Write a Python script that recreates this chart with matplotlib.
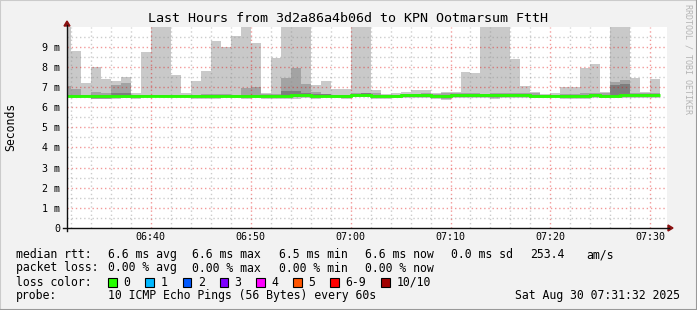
import numpy as np
import matplotlib
matplotlib.use("Agg")
import matplotlib.pyplot as plt
from matplotlib.patches import Polygon, Rectangle
from matplotlib.lines import Line2D

W, H = 697, 310

# ---------------- data (ms) ----------------
# bin end times in minutes after 06:30; first bin starts at the window start
window_start = 1.63
window_end = 61.63
bin_end = list(range(2, 62))  # 06:32 ... 07:31

rtt_max = [10.5, 8.8, 7.2, 8.0, 7.4, 7.3, 7.5, 6.7, 8.73, 10.5,
           10.5, 7.6, 6.7, 7.3, 7.8, 9.28, 9.0, 9.53, 10.5, 9.17,
           6.72, 8.45, 10.5, 10.5, 10.5, 7.1, 7.3, 6.9, 6.9, 10.5,
           10.5, 6.85, 6.65, 6.7, 6.75, 6.85, 6.85, 6.7, 6.75, 6.75,
           7.74, 7.7, 10.5, 10.5, 10.5, 8.4, 7.05, 6.75, 6.65, 6.7,
           7.0, 7.0, 7.94, 8.14, 6.75, 10.5, 10.5, 7.45, 6.75, 7.4]

rtt_p9 = [7.05, 6.9, 6.6, 6.75, 6.7, 7.1, 7.2, 6.6, 6.62, 6.62,
          6.6, 6.6, 6.6, 6.6, 6.65, 6.65, 6.65, 6.62, 6.93, 7.0,
          6.65, 6.65, 7.43, 7.94, 7.15, 6.75, 6.65, 6.62, 6.62, 6.7,
          6.7, 6.7, 6.62, 6.6, 6.62, 6.65, 6.7, 6.65, 6.7, 6.7,
          6.7, 6.7, 6.65, 6.7, 6.7, 6.68, 6.7, 6.7, 6.62, 6.62,
          6.65, 6.65, 6.7, 6.7, 6.7, 7.25, 7.35, 6.7, 6.7, 6.68]

rtt_p8 = [6.62, 6.6, 6.58, 6.62, 6.62, 6.7, 6.7, 6.58, 6.6, 6.6,
          6.58, 6.58, 6.6, 6.6, 6.58, 6.58, 6.6, 6.6, 6.62, 6.62,
          6.6, 6.6, 6.78, 6.82, 6.72, 6.65, 6.65, 6.6, 6.58, 6.66,
          6.68, 6.6, 6.6, 6.62, 6.64, 6.64, 6.64, 6.6, 6.6, 6.64,
          6.64, 6.64, 6.66, 6.66, 6.66, 6.66, 6.64, 6.62, 6.62, 6.62,
          6.6, 6.6, 6.6, 6.66, 6.6, 7.1, 7.15, 6.64, 6.64, 6.64]

rtt_median = [6.55, 6.55, 6.53, 6.53, 6.53, 6.53, 6.53, 6.55, 6.56, 6.56,
              6.55, 6.54, 6.55, 6.55, 6.54, 6.54, 6.55, 6.55, 6.54, 6.55,
              6.55, 6.55, 6.56, 6.59, 6.61, 6.57, 6.57, 6.55, 6.53, 6.59,
              6.62, 6.55, 6.54, 6.55, 6.59, 6.59, 6.58, 6.55, 6.55, 6.58,
              6.58, 6.58, 6.59, 6.59, 6.59, 6.61, 6.59, 6.57, 6.57, 6.57,
              6.55, 6.55, 6.55, 6.61, 6.55, 6.55, 6.59, 6.59, 6.59, 6.59]

rtt_p3 = [6.5, 6.5, 6.5, 6.47, 6.47, 6.48, 6.5, 6.5, 6.52, 6.52,
          6.5, 6.5, 6.5, 6.5, 6.48, 6.5, 6.5, 6.5, 6.48, 6.5,
          6.5, 6.5, 6.5, 6.52, 6.55, 6.52, 6.52, 6.5, 6.47, 6.55,
          6.56, 6.5, 6.48, 6.5, 6.52, 6.52, 6.52, 6.5, 6.47, 6.52,
          6.52, 6.52, 6.52, 6.52, 6.52, 6.55, 6.53, 6.5, 6.5, 6.5,
          6.5, 6.48, 6.5, 6.55, 6.5, 6.5, 6.53, 6.53, 6.53, 6.53]

rtt_p2 = [6.48, 6.47, 6.48, 6.42, 6.42, 6.45, 6.47, 6.45, 6.5, 6.5,
          6.48, 6.48, 6.48, 6.45, 6.44, 6.46, 6.48, 6.47, 6.44, 6.47,
          6.46, 6.45, 6.45, 6.48, 6.5, 6.47, 6.5, 6.47, 6.44, 6.52,
          6.52, 6.46, 6.44, 6.47, 6.5, 6.5, 6.48, 6.45, 6.42, 6.48,
          6.5, 6.48, 6.48, 6.47, 6.48, 6.5, 6.5, 6.47, 6.47, 6.48,
          6.46, 6.44, 6.46, 6.5, 6.47, 6.47, 6.5, 6.5, 6.5, 6.5]

rtt_min = [6.47, 6.45, 6.47, 6.38, 6.38, 6.42, 6.45, 6.40, 6.47, 6.48,
           6.47, 6.47, 6.47, 6.42, 6.40, 6.42, 6.47, 6.45, 6.40, 6.45,
           6.42, 6.40, 6.40, 6.42, 6.47, 6.42, 6.47, 6.45, 6.40, 6.48,
           6.48, 6.42, 6.40, 6.45, 6.47, 6.47, 6.45, 6.40, 6.35, 6.45,
           6.47, 6.45, 6.45, 6.42, 6.45, 6.45, 6.47, 6.45, 6.45, 6.47,
           6.42, 6.40, 6.42, 6.45, 6.45, 6.45, 6.45, 6.45, 6.45, 6.47]

x_tick_minutes = [10, 20, 30, 40, 50, 60]
x_tick_labels = ["06:40", "06:50", "07:00", "07:10", "07:20", "07:30"]
y_tick_values = [0, 1, 2, 3, 4, 5, 6, 7, 8, 9]
y_tick_labels = ["0", "1 m", "2 m", "3 m", "4 m", "5 m", "6 m", "7 m", "8 m", "9 m"]

title = "Last Hours from 3d2a86a4b06d to KPN Ootmarsum FttH"
loss_labels = ["0", "1", "2", "3", "4", "5", "6-9", "10/10"]
loss_colors = ["#26ff00", "#00b8ff", "#0059ff", "#7e00ff", "#ff00ff", "#ff5500", "#ff0000", "#a10000"]

# ---------------- figure ----------------
MONO = "DejaVu Sans Mono"
BG = "#f2f2f2"
fig = plt.figure(figsize=(W / 100, H / 100), dpi=100, facecolor=BG)


def fx(x):
    return x / W


def fy(y):
    return 1 - y / H


ax_left, ax_right, ax_top, ax_bottom = 67, 666.7, 26.5, 228
ax = fig.add_axes([fx(ax_left), fy(ax_bottom), (ax_right - ax_left) / W, (ax_bottom - ax_top) / H])
ax.set_facecolor("white")
ax.set_xlim(window_start, window_end)
ax.set_ylim(0, 10)
for s in ax.spines.values():
    s.set_visible(False)

# grid (drawn over the smoke, as rrdtool does)
GRID = dict(lw=1.0, ls=(0, (1, 2)), zorder=2)
minor_x = np.arange(2, 62, 2)
for xv in minor_x:
    if xv % 10 != 0:
        ax.axvline(xv, color="#8f8f8f", alpha=0.45, **GRID)
for yv in np.arange(0.5, 10, 1.0):
    ax.axhline(yv, color="#8f8f8f", alpha=0.45, **GRID)
for xv in x_tick_minutes:
    ax.axvline(xv, color="#e00000", alpha=0.4, **GRID)
for yv in range(1, 10):
    ax.axhline(yv, color="#e00000", alpha=0.4, **GRID)

edges = [window_start] + bin_end

# smoke
ax.stairs(rtt_max, edges, baseline=rtt_min, fill=True, color="#c9c9c9", lw=0, zorder=1)
ax.stairs(rtt_p9, edges, baseline=rtt_p2, fill=True, color="#a3a3a3", lw=0, zorder=1.1)
ax.stairs(rtt_p8, edges, baseline=rtt_p3, fill=True, color="#7e7e7e", lw=0, zorder=1.2)

# median line (loss 0 colour)
ax.stairs(rtt_median, edges, baseline=None, fill=False, color="#26ff00", lw=2.0, zorder=3)

# ticks
ax.set_xticks(x_tick_minutes)
ax.set_xticklabels(x_tick_labels, fontfamily=MONO, fontsize=7.2)
ax.set_yticks(y_tick_values)
ax.set_yticklabels(y_tick_labels, fontfamily=MONO, fontsize=7.2)
ax.tick_params(axis="both", length=0)
ax.tick_params(axis="y", pad=5.0)
ax.tick_params(axis="x", pad=3.0)

# axes lines + arrows
fig.add_artist(Line2D([fx(63), fx(669)], [fy(228), fy(228)], color="#101010", lw=1.0))
fig.add_artist(Line2D([fx(67), fx(67)], [fy(231), fy(25)], color="#101010", lw=1.0))
fig.add_artist(Polygon([(fx(668), fy(225)), (fx(673), fy(228)), (fx(668), fy(231))],
                       closed=True, color="#8b1010", transform=fig.transFigure))
fig.add_artist(Polygon([(fx(64), fy(26)), (fx(67), fy(21)), (fx(70), fy(26))],
                       closed=True, color="#8b1010", transform=fig.transFigure))

# title and labels
fig.text(fx(348), fy(19), title, ha="center", va="center", fontfamily=MONO, fontsize=9.6, color="#000000")
fig.text(fx(11), fy(127), "Seconds", rotation=90, ha="center", va="center", fontfamily=MONO, fontsize=8.3)
fig.text(fx(688), fy(4), "RRDTOOL / TOBI OETIKER", rotation=270, ha="center", va="top",
         fontfamily=MONO, fontsize=6.0, color="#b4b4b4")

LF = 8.3
rows = [254.5, 268, 282, 296]
line1 = [(16, "median rtt:"), (107.6, "6.6 ms avg"), (192.4, "6.6 ms max"), (279, "6.5 ms min"),
         (365, "6.6 ms now"), (451, "0.0 ms sd"), (530, "253.4"), (586.7, "am/s")]
line2 = [(16, "packet loss:"), (107.6, "0.00 % avg"), (192.4, "0.00 % max"), (279, "0.00 % min"),
         (365, "0.00 % now")]
for x, t in line1:
    fig.text(fx(x), fy(rows[0]), t, ha="left", va="center", fontfamily=MONO, fontsize=LF)
for x, t in line2:
    fig.text(fx(x), fy(rows[1]), t, ha="left", va="center", fontfamily=MONO, fontsize=LF)
fig.text(fx(16), fy(rows[2]), "loss color:", ha="left", va="center", fontfamily=MONO, fontsize=LF)
sq_x = [108, 145.3, 182.7, 219.6, 256.4, 293.3, 330, 381.3]
for x, lab, col in zip(sq_x, loss_labels, loss_colors):
    fig.add_artist(Rectangle((fx(x), fy(rows[2] + 4.5)), 8.5 / W, 8.5 / H, transform=fig.transFigure,
                             facecolor=col, edgecolor="black", lw=0.8))
    fig.text(fx(x + 15), fy(rows[2]), lab, ha="left", va="center", fontfamily=MONO, fontsize=LF)
fig.text(fx(16), fy(rows[3]), "probe:", ha="left", va="center", fontfamily=MONO, fontsize=LF)
fig.text(fx(108), fy(rows[3]), "10 ICMP Echo Pings (56 Bytes) every 60s", ha="left", va="center",
         fontfamily=MONO, fontsize=LF)
fig.text(fx(680), fy(rows[3]), "Sat Aug 30 07:31:32 2025", ha="right", va="center", fontfamily=MONO, fontsize=LF)

# 3D frame
fig.add_artist(Line2D([0, 0], [0, 1], color="#cbcbcb", lw=1.5, transform=fig.transFigure))
fig.add_artist(Line2D([0, 1], [1, 1], color="#cbcbcb", lw=1.5, transform=fig.transFigure))
fig.add_artist(Line2D([1, 1], [0, 1], color="#999999", lw=1.5, transform=fig.transFigure))
fig.add_artist(Line2D([0, 1], [0, 0], color="#999999", lw=1.5, transform=fig.transFigure))

fig.savefig("out.png", dpi=100, facecolor=BG)
